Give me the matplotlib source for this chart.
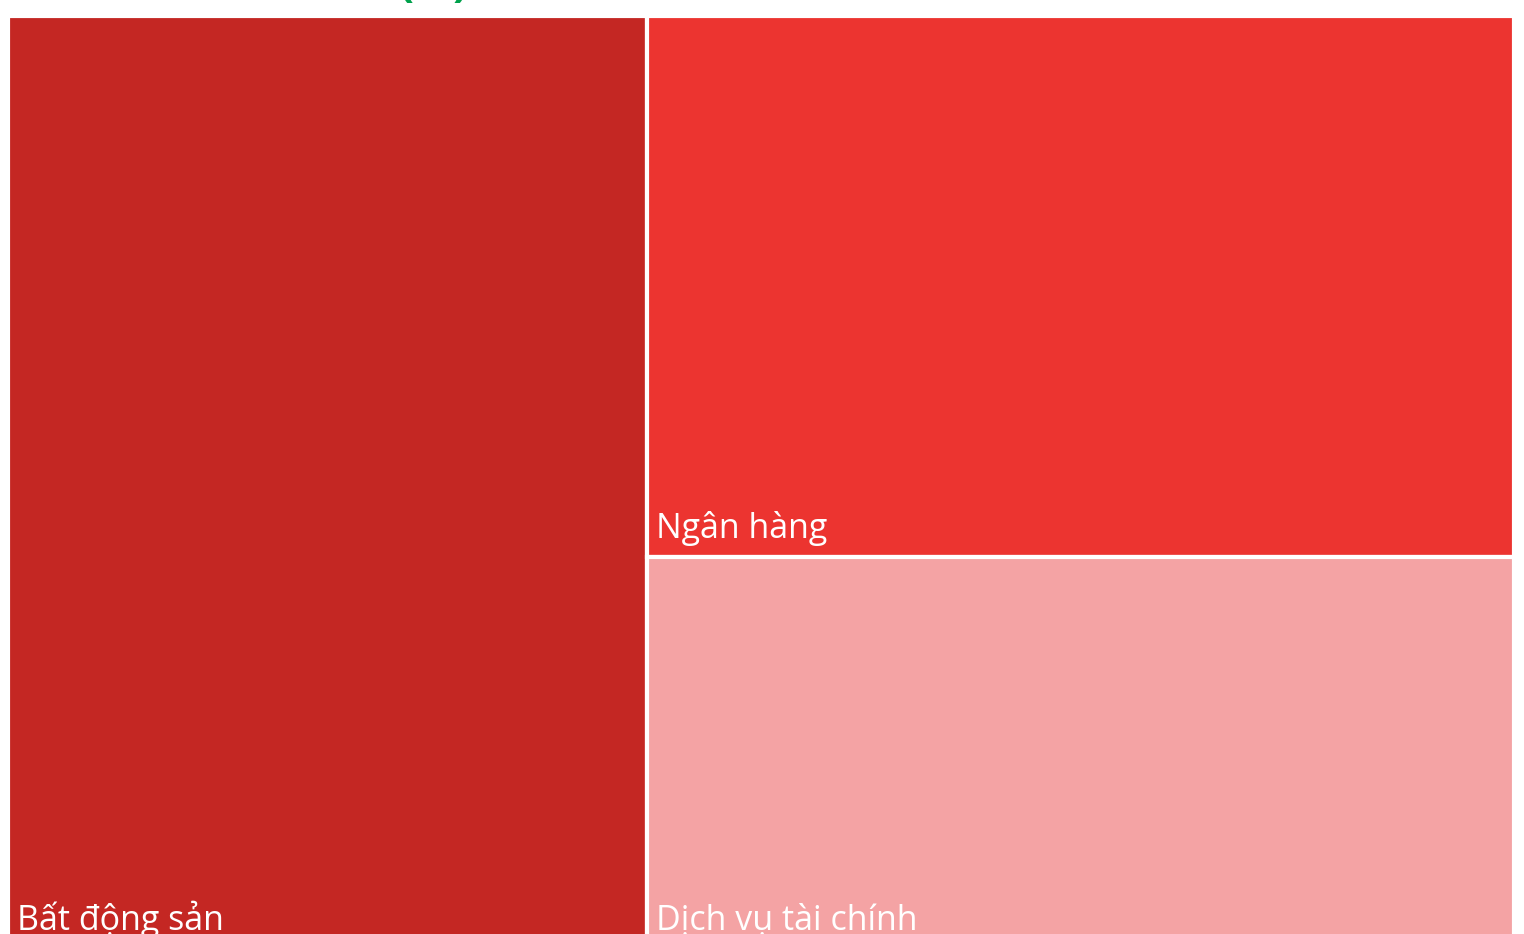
import matplotlib.pyplot as plt
from matplotlib.patches import Rectangle

sectors = ['Bất động sản', 'Ngân hàng', 'Dịch vụ tài chính']
values = [42.4, 33.4, 24.2]
colors = ['#C42723', '#EC3430', '#F4A3A4']

fig = plt.figure(figsize=(15.24, 9.34), dpi=100)
# chart runs past the bottom edge of the picture (cropped like the original)
ax = fig.add_axes([8 / 1524, 1 - 16 / 934 - 933 / 934, 1506 / 1524, 933 / 934])
ax.set_xlim(0, 1)
ax.set_ylim(0, 1)
ax.axis('off')

total = sum(values)
# first item takes a full-height column, the rest stack in the remaining column
w0 = values[0] / total
rects = [(0, 0, w0, 1)]
rest = sum(values[1:])
y = 1.0
for v in values[1:]:
    h = v / rest
    y -= h
    rects.append((w0, y, 1 - w0, h))

for (x0, y0, w, h), name, c in zip(rects, sectors, colors):
    ax.add_patch(Rectangle((x0, y0), w, h, facecolor=c, edgecolor='white', linewidth=3))
    ax.annotate(name, xy=(x0, y0), xytext=(9, 19), textcoords='offset pixels',
                ha='left', va='baseline', color='white', fontsize=24.5,
                family=['Open Sans', 'DejaVu Sans'])

fig.text(433 / 1524, 1 + 4 / 934, '(%)', ha='center', va='baseline', color='#00A14B',
         fontsize=32, fontweight='bold', family=['Open Sans', 'DejaVu Sans'])

plt.savefig('out.png')
